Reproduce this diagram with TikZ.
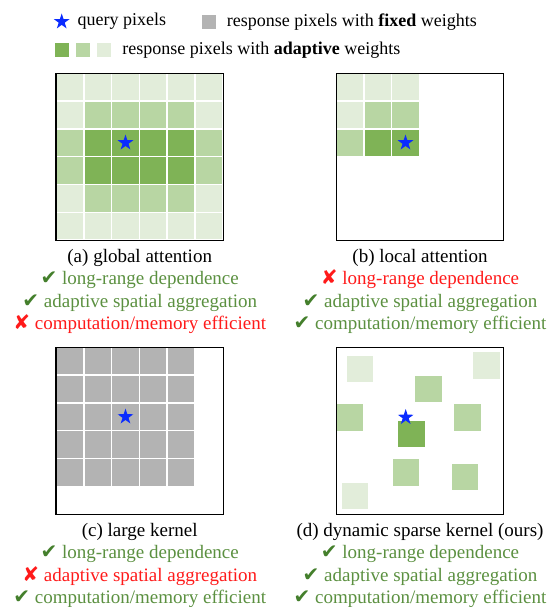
\documentclass[tikz,border=0pt]{standalone}
\usepackage{fontspec}
\setmainfont{Liberation Serif}
\newfontfamily\symfont{DejaVu Sans}
\usepackage{tikz}
\usetikzlibrary{shapes.geometric, positioning, calc}
\definecolor{adaptDark}{HTML}{7FB356}
\definecolor{adaptMid}{HTML}{B8D6A3}
\definecolor{adaptLight}{HTML}{E2EDDA}
\definecolor{fixedGray}{HTML}{B3B3B3}
\definecolor{queryBlue}{HTML}{0A2BFF}
\definecolor{goodGreen}{HTML}{5B9040}
\definecolor{checkGreen}{HTML}{447F2C}
\definecolor{badRed}{HTML}{FF1A1A}
\tikzstyle{panel} = [rectangle, draw=black, line width=1.2pt, minimum size=167.5pt, inner sep=0pt]
\tikzstyle{cell} = [draw=white, line width=1.5pt]
\tikzstyle{query} = [star, star points=5, star point ratio=2.6, fill=queryBlue, minimum size=16.5pt, inner sep=0pt]
\tikzstyle{swatch} = [rectangle, minimum size=14.3pt, inner sep=0pt]
\tikzstyle{legend} = [font=\fontsize{18}{21}\selectfont, inner sep=0pt, text height=12.5pt, text depth=4pt]
\tikzstyle{caption} = [font=\fontsize{19}{22}\selectfont, inner sep=0pt, text height=13pt, text depth=4pt]
\tikzstyle{good} = [caption, text=goodGreen]
\tikzstyle{bad} = [caption, text=badRed]
\newcommand{\okmark}{{\symfont\fontsize{20}{20}\selectfont\color{checkGreen}✔}}
\newcommand{\nomark}{{\symfont\fontsize{20}{20}\selectfont ✘}}

\begin{document}
\begin{tikzpicture}[x=1pt, y=-1pt, node distance=5pt]
        \useasboundingbox (0,0) rectangle (550,607);

        % legend
        \node[query] (LegendStar) at (61.7,21.7) {};
        \node[legend, right=11pt of LegendStar] (QueryText) {query pixels};
        \node[swatch, fill=fixedGray] (FixedSwatch) at (208.8,22.2) {};
        \node[legend, right=10.5pt of FixedSwatch] (FixedText) {response pixels with \textbf{fixed} weights};
        \node[swatch, fill=adaptDark] (DarkSwatch) at (62,50) {};
        \node[swatch, fill=adaptMid, right=6pt of DarkSwatch] (MidSwatch) {};
        \node[swatch, fill=adaptLight, right=6.4pt of MidSwatch] (LightSwatch) {};
        \node[legend, right=11pt of LightSwatch] (AdaptText) {response pixels with \textbf{adaptive} weights};

        % global attention
        \coordinate (GlobalOrigin) at (56,73.3);
        \foreach \shades [count=\r from 0] in {{adaptLight,adaptLight,adaptLight,adaptLight,adaptLight,adaptLight},
                {adaptLight,adaptMid,adaptMid,adaptMid,adaptMid,adaptLight},
                {adaptMid,adaptDark,adaptDark,adaptDark,adaptDark,adaptMid},
                {adaptMid,adaptDark,adaptDark,adaptDark,adaptDark,adaptMid},
                {adaptLight,adaptMid,adaptMid,adaptMid,adaptMid,adaptLight},
                {adaptLight,adaptLight,adaptLight,adaptLight,adaptLight,adaptLight}}
            \foreach \s [count=\c from 0] in \shades
                \draw[cell, fill=\s] ($(GlobalOrigin)+(\c*27.8,\r*27.8)$) rectangle +(27.8,27.8);
        \node[query] (GlobalQuery) at ($(GlobalOrigin)+(69.5,69.5)$) {};
        \node[panel] (GlobalPanel) at (139.7,156.9) {};
        \node[caption, below=8pt of GlobalPanel] (GlobalCap) {(a) global attention};
        \node[good, below=of GlobalCap] (GlobalLong) {\okmark{} long-range dependence};
        \node[good, below=of GlobalLong] (GlobalAdapt) {\okmark{} adaptive spatial aggregation};
        \node[bad, below=of GlobalAdapt] (GlobalEff) {\nomark{} computation/memory efficient};

        % local attention
        \coordinate (LocalOrigin) at (336,73.3);
        \foreach \shades [count=\r from 0] in {{adaptLight,adaptLight,adaptLight},
                {adaptLight,adaptMid,adaptMid},
                {adaptMid,adaptDark,adaptDark}}
            \foreach \s [count=\c from 0] in \shades
                \draw[cell, fill=\s] ($(LocalOrigin)+(\c*27.8,\r*27.8)$) rectangle +(27.8,27.8);
        \node[query] (LocalQuery) at ($(LocalOrigin)+(69.5,69.5)$) {};
        \node[panel] (LocalPanel) at (420,156.9) {};
        \node[caption, below=8pt of LocalPanel] (LocalCap) {(b) local attention};
        \node[bad, below=of LocalCap] (LocalLong) {\nomark{} long-range dependence};
        \node[good, below=of LocalLong] (LocalAdapt) {\okmark{} adaptive spatial aggregation};
        \node[good, below=of LocalAdapt] (LocalEff) {\okmark{} computation/memory efficient};

        % large kernel
        \coordinate (LargeOrigin) at (56,347.3);
        \foreach \r in {0,...,4}
            \foreach \c in {0,...,4}
                \draw[cell, fill=fixedGray] ($(LargeOrigin)+(\c*27.8,\r*27.8)$) rectangle +(27.8,27.8);
        \node[query] (LargeQuery) at ($(LargeOrigin)+(69.5,69.5)$) {};
        \node[panel] (LargePanel) at (139.7,430.9) {};
        \node[caption, below=8pt of LargePanel] (LargeCap) {(c) large kernel};
        \node[good, below=of LargeCap] (LargeLong) {\okmark{} long-range dependence};
        \node[bad, below=of LargeLong] (LargeAdapt) {\nomark{} adaptive spatial aggregation};
        \node[good, below=of LargeAdapt] (LargeEff) {\okmark{} computation/memory efficient};

        % dynamic sparse kernel
        \foreach \x/\y/\s in {346.7/355.7/adaptLight, 473.3/352.3/adaptLight, 341.7/482.7/adaptLight,
                415/375.7/adaptMid, 336.7/404/adaptMid, 454/404/adaptMid, 392.7/459/adaptMid,
                451.7/463.7/adaptMid, 398.3/420.7/adaptDark}
            \fill[\s] (\x,\y) rectangle +(26.7,26.7);
        \node[query] (SparseQuery) at (405.7,417.3) {};
        \node[panel] (SparsePanel) at (420,430.9) {};
        \node[caption, below=8pt of SparsePanel] (SparseCap) {(d) dynamic sparse kernel (ours)};
        \node[good, below=of SparseCap] (SparseLong) {\okmark{} long-range dependence};
        \node[good, below=of SparseLong] (SparseAdapt) {\okmark{} adaptive spatial aggregation};
        \node[good, below=of SparseAdapt] (SparseEff) {\okmark{} computation/memory efficient};
\end{tikzpicture}
\end{document}
